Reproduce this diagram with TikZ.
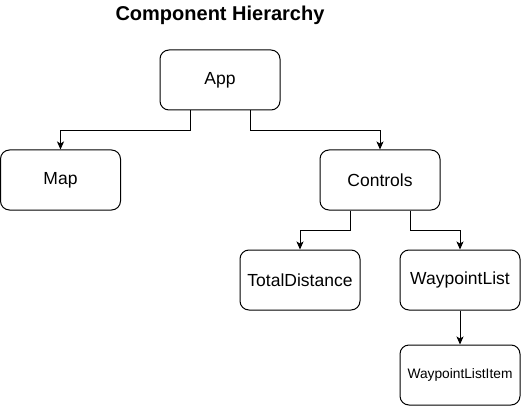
\documentclass[tikz,border=0pt]{standalone}
\usepackage{fontspec}
\setmainfont{Liberation Sans}
\usetikzlibrary{positioning}
\usetikzlibrary{arrows.meta}

\begin{document}
\begin{tikzpicture}[>={Stealth[length=8pt,width=7pt,inset=2pt]}, x=1pt, y=-1pt, line width=1pt]
    \tikzset{block/.style= {draw, rectangle, rounded corners=9pt, align=center, minimum width=120pt, minimum height=60pt, inner sep=2pt, font=\fontsize{17.5}{20}\selectfont},}
    \useasboundingbox (0,0) rectangle (521,406);

    \node [font=\fontsize{20}{24}\selectfont\bfseries] (title) at (220,15) {Component Hierarchy};
    \node [block] (app) at (220,80) {App};
    \node [block] (map) at (60.5,180) {Map};
    \node [block] (ctl) at (380,180) {Controls};
    \node [block] (tot) at (300,280) {TotalDistance};
    \node [block] (wpl) at (460,280) {WaypointList};
    \node [block, font=\fontsize{13.75}{16}\selectfont] (wpi) at (460,375) {WaypointListItem};

    \draw[->] ([xshift=-30pt]app.south) -- ++(0,20) -| (map);
    \draw[->] ([xshift=30pt]app.south) -- ++(0,20) -| (ctl);
    \draw[->] ([xshift=-30pt]ctl.south) -- ++(0,20) -| (tot);
    \draw[->] ([xshift=30pt]ctl.south) -- ++(0,20) -| (wpl);
    \draw[->] (wpl) -- (wpi);
\end{tikzpicture}
\end{document}
